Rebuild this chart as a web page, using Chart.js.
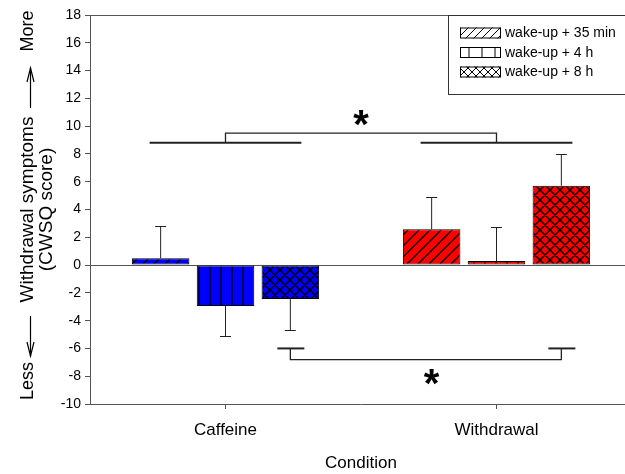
<!DOCTYPE html>
<html>
<head>
<meta charset="utf-8">
<script src="https://cdn.jsdelivr.net/npm/chart.js@4.4.1/dist/chart.umd.min.js"></script>
<style>
  html, body { margin: 0; padding: 0; overflow: hidden; background: #fff; }
  #wrap { width: 632px; height: 474px; }
</style>
</head>
<body>
<div id="wrap"><canvas id="chart" width="632" height="474"></canvas></div>
<script>
var categories = ['Caffeine', 'Withdrawal'];
var seriesLabels = ['wake-up + 35 min', 'wake-up + 4 h', 'wake-up + 8 h'];

// mean CWSQ change per condition
var wake35min = [0.5, 2.57];
var wake4h = [-2.95, 0.29];
var wake8h = [-2.45, 5.71];

// error bar length (one sided)
var err35min = [2.3, 2.3];
var err4h = [2.15, 2.45];
var err8h = [2.25, 2.26];

var yMin = -10, yMax = 18, yStep = 2;

var axisGray = '#555';
var font = 'Liberation Sans, Arial, sans-serif';

function makePattern(kind, bg, size, lw) {
  var c = document.createElement('canvas');
  c.width = size; c.height = size;
  var g = c.getContext('2d');
  g.fillStyle = bg;
  g.fillRect(0, 0, size, size);
  g.strokeStyle = '#000';
  g.lineWidth = lw;
  g.beginPath();
  // draw each line with its neighbours so the tile wraps cleanly
  for (var k = -1; k <= 1; k++) {
    var o = k * size;
    if (kind == 'diag' || kind == 'cross') {
      g.moveTo(o, size); g.lineTo(o + size, 0);
    }
    if (kind == 'cross') {
      g.moveTo(o, 0); g.lineTo(o + size, size);
    }
  }
  if (kind == 'vert') {
    g.moveTo(1, 0); g.lineTo(1, size);
  }
  g.stroke();
  return g.createPattern(c, 'repeat');
}

var kinds = ['diag', 'vert', 'cross'];
var tiles = { diag: 11, vert: 11, cross: 10 };
function barFills(kind) {
  return [makePattern(kind, '#0000ff', tiles[kind], 1.4), makePattern(kind, '#ff0000', tiles[kind], 1.4)];
}
var legendFills = [makePattern('diag', '#fff', 8, 1), makePattern('vert', '#fff', 13, 1), makePattern('cross', '#fff', 8, 1)];

var values = [wake35min, wake4h, wake8h];
var errors = [err35min, err4h, err8h];

var datasets = values.map(function(v, i) {
  return {
    label: seriesLabels[i],
    data: v,
    backgroundColor: barFills(kinds[i]),
    borderColor: '#000',
    borderWidth: 1,
    borderSkipped: false,
    categoryPercentage: 0.718,
    barPercentage: 0.887
  };
});

function line(ctx, x0, y0, x1, y1) {
  ctx.beginPath();
  ctx.moveTo(x0, y0);
  ctx.lineTo(x1, y1);
  ctx.stroke();
}

function arrow(ctx, x, yTail, yTip) {
  var dir = yTip < yTail ? 1 : -1;
  line(ctx, x, yTail, x, yTip);
  ctx.beginPath();
  ctx.moveTo(x - 3.5, yTip + dir * 14);
  ctx.lineTo(x, yTip);
  ctx.lineTo(x + 3.5, yTip + dir * 14);
  ctx.stroke();
}

var decor = {
  id: 'decor',
  beforeDatasetsDraw: function(chart) {
    var ctx = chart.ctx, a = chart.chartArea, y = chart.scales.y;
    ctx.save();
    ctx.strokeStyle = axisGray;
    ctx.lineWidth = 1;
    var y0 = Math.round(y.getPixelForValue(0)) + 0.5;
    line(ctx, a.left, y0, a.right, y0);
    ctx.restore();
  },
  afterDatasetsDraw: function(chart) {
    var ctx = chart.ctx, x = chart.scales.x, y = chart.scales.y;
    ctx.save();
    ctx.strokeStyle = '#222';
    ctx.lineWidth = 1;
    // error bars
    values.forEach(function(v, i) {
      var meta = chart.getDatasetMeta(i);
      v.forEach(function(val, j) {
        var bx = meta.data[j].x;
        var end = val >= 0 ? val + errors[i][j] : val - errors[i][j];
        var py0 = y.getPixelForValue(val), py1 = Math.round(y.getPixelForValue(end)) + 0.5;
        line(ctx, bx, py0, bx, py1);
        line(ctx, bx - 5.5, py1, bx + 5.5, py1);
      });
    });

    // condition effect (top)
    var c0 = x.getPixelForValue(0), c1 = x.getPixelForValue(1);
    var cw = c1 - c0;
    var yl = y.getPixelForValue(8.8), yb = y.getPixelForValue(9.5);
    ctx.lineWidth = 2;
    line(ctx, c0 - 0.28 * cw, yl, c0 + 0.28 * cw, yl);
    line(ctx, c1 - 0.28 * cw, yl, c1 + 0.28 * cw, yl);
    ctx.lineWidth = 1.3;
    ctx.beginPath();
    ctx.moveTo(c0, yl); ctx.lineTo(c0, yb); ctx.lineTo(c1, yb); ctx.lineTo(c1, yl);
    ctx.stroke();

    // 8 h comparison (bottom)
    var m = chart.getDatasetMeta(2);
    var b0 = m.data[0].x, b1 = m.data[1].x;
    var ys = y.getPixelForValue(-6), yd = y.getPixelForValue(-6.8);
    ctx.lineWidth = 2;
    line(ctx, b0 - 13, ys, b0 + 14, ys);
    line(ctx, b1 - 13, ys, b1 + 14, ys);
    ctx.lineWidth = 1.3;
    ctx.beginPath();
    ctx.moveTo(b0, ys); ctx.lineTo(b0, yd); ctx.lineTo(b1, yd); ctx.lineTo(b1, ys);
    ctx.stroke();

    ctx.fillStyle = '#000';
    ctx.font = 'bold 40px ' + font;
    ctx.textAlign = 'center';
    ctx.textBaseline = 'alphabetic';
    ctx.fillText('*', x.getPixelForValue(0.5), y.getPixelForValue(10.5) + 19);
    ctx.fillText('*', x.getPixelForValue(0.76), y.getPixelForValue(-8.2) + 18);
    ctx.restore();
  },
  afterDraw: function(chart) {
    var ctx = chart.ctx, a = chart.chartArea;
    ctx.save();
    // frame top and axis stub
    ctx.strokeStyle = axisGray;
    ctx.lineWidth = 1;
    line(ctx, a.left, a.top + 0.5, a.right, a.top + 0.5);
    line(ctx, a.left - 5, a.bottom + 0.5, a.left, a.bottom + 0.5);

    // legend
    var lx = a.right - 184, ly = a.top;
    ctx.strokeStyle = '#333';
    ctx.strokeRect(lx + 0.5, ly + 0.5, 200, 79);
    ctx.font = '14px ' + font;
    ctx.textAlign = 'left';
    ctx.textBaseline = 'middle';
    seriesLabels.forEach(function(lab, i) {
      var ry = ly + 18 + i * 19.5;
      ctx.fillStyle = legendFills[i];
      ctx.fillRect(lx + 12, ry - 5.5, 41, 11);
      ctx.strokeStyle = '#000';
      ctx.strokeRect(lx + 12.5, ry - 5, 40, 10);
      ctx.fillStyle = '#000';
      ctx.fillText(lab, lx + 57, ry + 0.5);
    });

    // y title with direction arrows
    var mid = (a.top + a.bottom) / 2;
    ctx.fillStyle = '#000';
    ctx.strokeStyle = '#000';
    ctx.textAlign = 'center';
    ctx.textBaseline = 'middle';
    var texts = [['Withdrawal symptoms', 28, mid, 19], ['(CWSQ score)', 47, mid, 19], ['More', 28, 31, 18], ['Less', 28, 381, 18]];
    texts.forEach(function(t) {
      ctx.save();
      ctx.font = t[3] + 'px ' + font;
      ctx.translate(t[1], t[2]);
      ctx.rotate(-Math.PI / 2);
      ctx.fillText(t[0], 0, 0);
      ctx.restore();
    });
    ctx.lineWidth = 1.2;
    arrow(ctx, 30.5, 108, 68);
    arrow(ctx, 30.5, 316, 356);
    ctx.restore();
  }
};

new Chart(document.getElementById('chart'), {
  type: 'bar',
  data: { labels: categories, datasets: datasets },
  options: {
    responsive: false,
    animation: false,
    devicePixelRatio: 1,
    layout: { padding: { top: 15, left: 0, right: 0, bottom: 0 } },
    plugins: { legend: { display: false }, tooltip: { enabled: false } },
    scales: {
      x: {
        grid: { offset: false, drawOnChartArea: false, tickLength: 5, color: axisGray },
        border: { color: axisGray },
        ticks: { color: '#000', padding: 11, font: { family: font, size: 17 } },
        title: { display: true, text: 'Condition', color: '#000', padding: 0, font: { family: font, size: 17 } },
        afterFit: function(scale) { scale.height = 70; }
      },
      y: {
        min: yMin,
        max: yMax,
        grid: { drawOnChartArea: false, tickLength: 5, color: axisGray },
        border: { color: axisGray },
        ticks: { stepSize: yStep, color: '#000', padding: 4, font: { family: font, size: 14 } },
        afterFit: function(scale) { scale.width = 90; }
      }
    }
  },
  plugins: [decor]
});
</script>
</body>
</html>
